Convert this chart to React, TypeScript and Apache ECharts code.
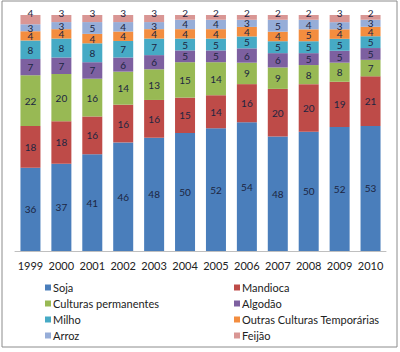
import React, { useEffect, useRef } from "react";
import * as echarts from "echarts";

const years = ["1999", "2000", "2001", "2002", "2003", "2004", "2005", "2006", "2007", "2008", "2009", "2010"];
const soja = [36, 37, 41, 46, 48, 50, 52, 54, 48, 50, 52, 53];
const mandioca = [18, 18, 16, 16, 16, 15, 14, 16, 20, 20, 19, 21];
const culturasPermanentes = [22, 20, 16, 14, 13, 15, 14, 9, 9, 8, 8, 7];
const algodao = [7, 7, 7, 6, 6, 5, 5, 6, 6, 5, 5, 5];
const milho = [8, 8, 8, 7, 7, 5, 5, 5, 5, 5, 5, 5];
const outras = [4, 4, 4, 4, 4, 4, 4, 4, 4, 5, 4, 4];
const arroz = [3, 3, 5, 4, 3, 4, 4, 3, 5, 4, 3, 3];
const feijao = [4, 3, 3, 3, 3, 2, 2, 2, 2, 2, 3, 2];

const seriesDefs = [
  { name: "Soja", data: soja, color: "#4A7EBB" },
  { name: "Mandioca", data: mandioca, color: "#BE4B48" },
  { name: "Culturas permanentes", data: culturasPermanentes, color: "#98B954" },
  { name: "Algodão", data: algodao, color: "#7D60A0" },
  { name: "Milho", data: milho, color: "#46AAC5" },
  { name: "Outras Culturas Temporárias", data: outras, color: "#F38D3F" },
  { name: "Arroz", data: arroz, color: "#96ADD8" },
  { name: "Feijão", data: feijao, color: "#D99694" },
];

const FONT = "Lato, 'Noto Sans', sans-serif";

export default function App() {
  const ref = useRef<HTMLDivElement>(null);
  useEffect(() => {
    if (!ref.current) return;
    const chart = echarts.init(ref.current, undefined, { renderer: "svg" });
    const totals = years.map((_, i) => seriesDefs.reduce((s, d) => s + d.data[i], 0));
    const legendItem = (names: string[], left: number) => ({
      orient: "vertical" as const,
      left,
      top: 277,
      itemWidth: 6,
      itemHeight: 6,
      itemGap: 5,
      icon: "rect",
      data: names,
      textStyle: { fontFamily: FONT, fontSize: 11, color: "#222", padding: [0, 0, 0, -3] },
    });
    chart.setOption({
      animation: false,
      textStyle: { fontFamily: FONT },
      graphic: [
        {
          type: "rect",
          shape: { x: 2, y: 1, width: 395, height: 346 },
          style: { fill: "none", stroke: "#8c8c8c", lineWidth: 1 },
          silent: true,
        },
      ],
      grid: { left: 15, right: 14, top: 15, bottom: 101, containLabel: false },
      legend: [
        legendItem(["Soja", "Culturas permanentes", "Milho", "Arroz"], 40),
        legendItem(["Mandioca", "Algodão", "Outras Culturas Temporárias", "Feijão"], 229),
      ],
      xAxis: {
        type: "category",
        data: years,
        axisLine: { lineStyle: { color: "#bfbfbf" } },
        axisTick: { show: false },
        axisLabel: { fontFamily: FONT, fontSize: 11, color: "#222", margin: 9, interval: 0 },
      },
      yAxis: { type: "value", min: 0, max: 100, show: false, splitLine: { show: false } },
      series: seriesDefs.map((d, si) => ({
        name: d.name,
        type: "bar",
        stack: "total",
        barWidth: 20,
        itemStyle: { color: d.color },
        data: d.data.map((v, i) => ({ value: (v / totals[i]) * 100, raw: v })),
        label: {
          show: true,
          position: si === seriesDefs.length - 1 ? "top" : "inside",
          distance: si === seriesDefs.length - 1 ? -3 : 5,
          fontFamily: FONT,
          fontSize: 10,
          color: "#1c2541",
          formatter: (p: any) => String(p.data.raw),
        },
      })),
    });
    return () => chart.dispose();
  }, []);
  return (
    <div
      ref={ref}
      style={{ position: "fixed", left: 0, top: 0, width: 400, height: 352, background: "#fff" }}
    />
  );
}
